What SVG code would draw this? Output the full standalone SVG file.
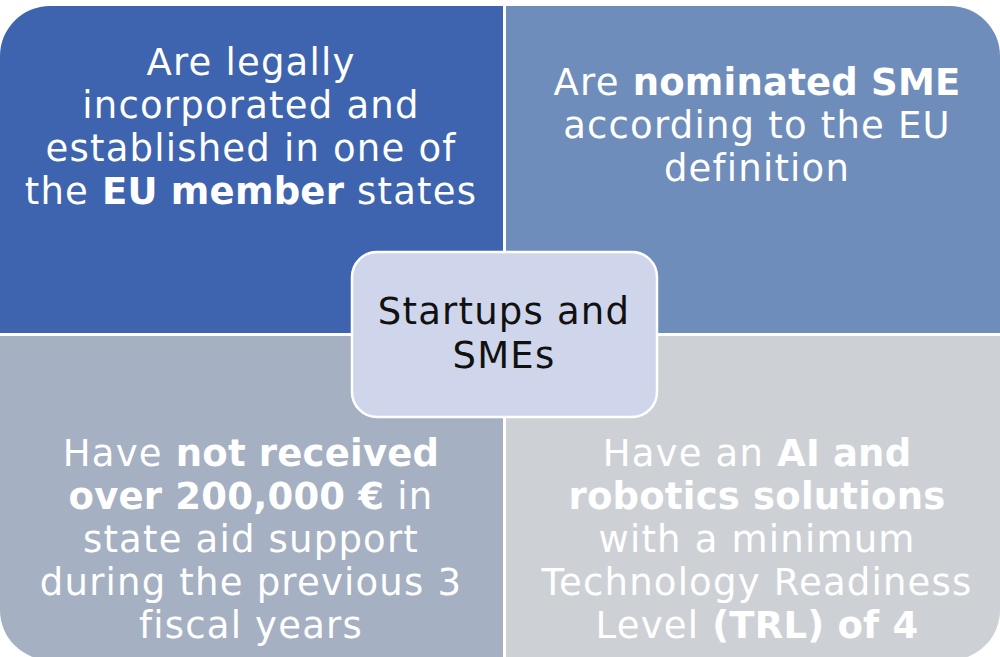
<svg xmlns="http://www.w3.org/2000/svg" width="1000" height="657" viewBox="0 0 1000 657">
<style>
.t{font-family:"DejaVu Sans","Open Sans",sans-serif;font-size:37px;letter-spacing:1.2px;fill:#ffffff;text-anchor:middle}
.c{fill:#111111}
.b{font-weight:bold;letter-spacing:0.2px}
</style>
<rect width="1000" height="657" fill="#ffffff"/>
<g id="q-tl">
<path d="M0,333 V56 A50,50 0 0 1 50,6 H503 V333 Z" fill="#3E64AF"/>
<text class="t" x="251" y="75">Are legally</text>
<text class="t" x="251" y="118">incorporated and</text>
<text class="t" x="251" y="161">established in one of</text>
<text class="t" x="251" y="204">the <tspan class="b">EU member</tspan> states</text>
</g>
<g id="q-tr">
<path d="M506,6 H950 A50,50 0 0 1 1000,56 V333 H506 Z" fill="#6F8DBB"/>
<text class="t" x="757" y="95">Are <tspan class="b">nominated SME</tspan></text>
<text class="t" x="757" y="138">according to the EU</text>
<text class="t" x="757" y="181">definition</text>
</g>
<g id="q-bl">
<path d="M0,336 H503 V660 H50 A50,50 0 0 1 0,610 Z" fill="#A5B0C2"/>
<text class="t" x="251" y="466">Have <tspan class="b">not received</tspan></text>
<text class="t" x="251" y="509"><tspan class="b">over 200,000 €</tspan> in</text>
<text class="t" x="251" y="552">state aid support</text>
<text class="t" x="251" y="595">during the previous 3</text>
<text class="t" x="251" y="638">fiscal years</text>
</g>
<g id="q-br">
<path d="M506,336 H1000 V610 A50,50 0 0 1 950,660 H506 Z" fill="#CDD1D6"/>
<text class="t" x="757" y="466">Have an <tspan class="b">AI and</tspan></text>
<text class="t b" x="757" y="509">robotics solutions</text>
<text class="t" x="757" y="552">with a minimum</text>
<text class="t" x="757" y="595">Technology Readiness</text>
<text class="t" x="757" y="638">Level <tspan class="b">(TRL) of 4</tspan></text>
</g>
<g id="center">
<rect x="352" y="252" width="305" height="165" rx="25" fill="#CFD5EB" stroke="#ffffff" stroke-width="2.5"/>
<text class="t c" x="504" y="324">Startups and</text>
<text class="t c" x="504" y="368">SMEs</text>
</g>
<g id="connectors"></g>
</svg>
